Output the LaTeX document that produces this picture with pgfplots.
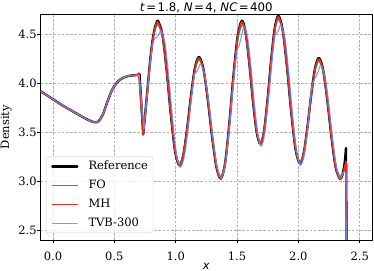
\documentclass[border=0pt]{standalone}
\usepackage{pgfplots}
\pgfplotsset{compat=1.18}
\usepackage{fontspec}
\setmainfont{DejaVu Serif}
\newfontfamily\djs{DejaVu Sans}
\definecolor{cfo}{RGB}{45,160,45}
\definecolor{cmh}{RGB}{240,40,40}
\definecolor{ctvb}{RGB}{100,140,255}
\definecolor{cgrid}{RGB}{178,178,178}
\newcommand{\eq}{\hspace{1.4bp}=\hspace{1.4bp}}
\begin{document}
\begin{tikzpicture}
\begin{axis}[
  at={(40.7bp,31bp)}, anchor=south west,
  scale only axis, width=331.3bp, height=225.7bp,
  xmin=-0.1, xmax=2.6, ymin=2.4, ymax=4.7,
  xtick={0,0.5,1,1.5,2,2.5}, ytick={2.5,3,3.5,4,4.5},
  /pgf/number format/.cd, fixed, fixed zerofill, precision=1, assume math mode=true, /pgfplots/.cd,
  grid=major, grid style={dashed, cgrid, line width=0.6bp, dash pattern=on 2.6bp off 1.6bp},
  axis line style={line width=0.9bp, black},
  tick align=outside, tick pos=left, major tick length=3.5bp,
  tick style={line width=0.8bp, black},
  ticklabel style={font=\fontsize{11.5bp}{13bp}\selectfont},
  xticklabel style={yshift=-5bp},
  yticklabel style={xshift=3bp},
  title={{\djs\textit{t}\eq 1.8, \textit{N}\eq 4, \textit{NC}\eq 400}},
  every axis title/.style={font=\fontsize{11.8bp}{13bp}\selectfont, at={(axis description cs:0.5,1)}, anchor=base, yshift=3.3bp, inner sep=0pt},
  xlabel={{\djs\textit{x}}},
  every axis x label/.style={font=\fontsize{11.5bp}{13bp}\selectfont, at={(axis description cs:0.5,-0.1152)}, anchor=center, inner sep=0pt},
  ylabel={Density},
  every axis y label/.style={font=\fontsize{11.5bp}{13bp}\selectfont, at={(axis description cs:-0.1041,0.5)}, rotate=90, anchor=center, inner sep=0pt},
  legend cell align=left,
  legend image code/.code={\draw[#1] (0bp,0bp) -- (25bp,0bp);},
  legend style={at={(axis description cs:0.016,0.031)}, anchor=south west, draw=black!20, rounded corners=2bp, fill=white, fill opacity=0.8, text opacity=1, font=\fontsize{11.5bp}{13bp}\selectfont, inner xsep=5bp, inner ysep=4bp, row sep=7.6bp, column sep=10bp, nodes={inner sep=0pt, text height=8.7bp, text depth=2.6bp}},
  every axis plot/.append style={line join=round, line cap=round},
]
% ---------------- Reference ----------------
\addplot[black, line width=2.3bp, smooth] coordinates {
(-0.1,3.915)(0,3.835)(0.054,3.79)(0.1,3.755)(0.163,3.71)(0.244,3.652)(0.3,3.617)(0.339,3.600)(0.37,3.608)(0.407,3.68)(0.447,3.82)(0.488,3.945)(0.542,4.03)(0.61,4.07)(0.678,4.08)(0.706,4.088)};
\addlegendentry{Reference}
\addplot[black, line width=2.3bp, forget plot] coordinates {(0.706,4.088)(0.735,3.48)};
\addplot[black, line width=2.3bp, smooth, forget plot] coordinates {
(0.735,3.48)(0.75,3.66)(0.77,3.93)(0.79,4.20)(0.81,4.42)(0.83,4.56)(0.845,4.615)(0.857,4.632)
(0.8924,4.490)(0.9268,4.122)(0.9612,3.668)(0.9956,3.300)(1.030,3.16)
(1.062,3.266)(1.094,3.542)(1.126,3.883)(1.158,4.160)(1.190,4.265)
(1.2256,4.147)(1.2612,3.837)(1.2968,3.453)(1.3324,3.143)(1.368,3.025)
(1.4024,3.179)(1.4368,3.581)(1.4712,4.079)(1.5056,4.481)(1.540,4.635)
(1.570,4.515)(1.600,4.201)(1.630,3.814)(1.660,3.500)(1.690,3.380)
(1.7194,3.505)(1.7488,3.831)(1.7782,4.234)(1.8076,4.560)(1.837,4.685)
(1.872,4.541)(1.907,4.165)(1.942,3.700)(1.977,3.324)(2.012,3.180)
(2.043,3.283)(2.074,3.551)(2.105,3.884)(2.136,4.152)(2.167,4.255)
(2.2012,4.138)(2.2354,3.830)(2.2696,3.450)(2.3038,3.142)(2.338,3.025)
(2.355,3.05)(2.37,3.13)(2.38,3.22)(2.388,3.335)};
\addplot[black, line width=2.3bp, forget plot] coordinates {(2.388,3.335)(2.392,2.6)(2.394,2.0)};
% ---------------- FO ----------------
\addplot[cfo, line width=1.1bp, smooth] coordinates {
(-0.1,3.915)(0,3.835)(0.054,3.79)(0.1,3.755)(0.163,3.71)(0.244,3.652)(0.3,3.617)(0.339,3.600)(0.37,3.608)(0.407,3.68)(0.447,3.82)(0.488,3.945)(0.542,4.03)(0.61,4.07)(0.678,4.08)(0.703,4.085)};
\addlegendentry{FO}
\addplot[cfo, line width=1.1bp, forget plot] coordinates {(0.703,4.085)(0.738,3.55)};
\addplot[cfo, line width=1.1bp, smooth, forget plot] coordinates {
(0.738,3.55)(0.752,3.70)(0.77,3.93)(0.79,4.19)(0.81,4.40)(0.83,4.53)(0.845,4.58)(0.859,4.59)
(0.894,4.455)(0.928,4.103)(0.962,3.667)(0.996,3.315)(1.030,3.18)
(1.0624,3.281)(1.0948,3.545)(1.1272,3.871)(1.1596,4.134)(1.192,4.235)
(1.2272,4.122)(1.2624,3.826)(1.2976,3.459)(1.3328,3.163)(1.368,3.05)
(1.4028,3.197)(1.4376,3.582)(1.4724,4.058)(1.5072,4.443)(1.542,4.59)
(1.5716,4.476)(1.6012,4.179)(1.6308,3.811)(1.6604,3.514)(1.690,3.40)
(1.7196,3.519)(1.7492,3.832)(1.7788,4.218)(1.8084,4.531)(1.838,4.65)
(1.8728,4.512)(1.9076,4.149)(1.9424,3.701)(1.9772,3.339)(2.012,3.20)
(2.0432,3.297)(2.0744,3.552)(2.1056,3.868)(2.1368,4.123)(2.168,4.22)
(2.202,4.108)(2.236,3.816)(2.270,3.454)(2.304,3.162)(2.338,3.05)
(2.355,3.07)(2.37,3.11)(2.38,3.15)(2.388,3.17)};
\addplot[cfo, line width=1.1bp, forget plot] coordinates {(2.388,3.17)(2.392,2.0)};
% ---------------- MH ----------------
\addplot[cmh, line width=1.5bp, smooth] coordinates {
(-0.1,3.915)(0,3.835)(0.054,3.79)(0.1,3.755)(0.163,3.71)(0.244,3.652)(0.3,3.617)(0.339,3.600)(0.37,3.608)(0.407,3.68)(0.447,3.82)(0.488,3.945)(0.542,4.03)(0.61,4.07)(0.678,4.08)(0.699,4.10)};
\addlegendentry{MH}
\addplot[cmh, line width=1.5bp, forget plot] coordinates {(0.699,4.10)(0.735,3.47)};
\addplot[cmh, line width=1.5bp, smooth, forget plot] coordinates {
(0.735,3.47)(0.75,3.66)(0.77,3.93)(0.79,4.20)(0.81,4.42)(0.83,4.555)(0.845,4.605)(0.857,4.62)
(0.8924,4.485)(0.9268,4.122)(0.9612,3.668)(0.9956,3.300)(1.030,3.16)
(1.062,3.266)(1.094,3.542)(1.126,3.883)(1.158,4.155)(1.190,4.255)
(1.2256,4.142)(1.2612,3.837)(1.2968,3.453)(1.3324,3.143)(1.368,3.025)
(1.4024,3.179)(1.4368,3.581)(1.4712,4.079)(1.5056,4.475)(1.540,4.625)
(1.570,4.508)(1.600,4.201)(1.630,3.814)(1.660,3.500)(1.690,3.380)
(1.7194,3.505)(1.7488,3.831)(1.7782,4.234)(1.8076,4.553)(1.837,4.675)
(1.872,4.535)(1.907,4.165)(1.942,3.700)(1.977,3.324)(2.012,3.180)
(2.043,3.283)(2.074,3.551)(2.105,3.884)(2.136,4.146)(2.167,4.245)
(2.2012,4.132)(2.2354,3.830)(2.2696,3.450)(2.3038,3.142)(2.338,3.025)
(2.355,3.05)(2.37,3.10)(2.38,3.16)(2.388,3.20)};
\addplot[cmh, line width=1.5bp, forget plot] coordinates {(2.388,3.20)(2.393,2.0)};
% ---------------- TVB-300 ----------------
\addplot[ctvb, line width=1.1bp, opacity=0.85, smooth] coordinates {
(-0.1,3.915)(0,3.835)(0.054,3.79)(0.1,3.755)(0.163,3.71)(0.244,3.652)(0.3,3.617)(0.339,3.600)(0.37,3.608)(0.407,3.68)(0.447,3.82)(0.488,3.945)(0.542,4.03)(0.61,4.07)(0.678,4.078)(0.703,4.08)};
\addlegendentry{TVB-300}
\addplot[ctvb, line width=1.1bp, opacity=0.85, forget plot] coordinates {(0.703,4.08)(0.742,3.53)};
\addplot[ctvb, line width=1.1bp, opacity=0.85, smooth, forget plot] coordinates {
(0.742,3.53)(0.755,3.68)(0.772,3.92)(0.792,4.18)(0.81,4.38)(0.828,4.45)(0.845,4.465)(0.865,4.50)(0.882,4.535)
(0.9132,4.402)(0.9444,4.053)(0.9756,3.622)(1.0068,3.273)(1.038,3.14)
(1.07,3.25)(1.10,3.52)(1.13,3.86)(1.152,4.08)(1.17,4.11)(1.19,4.16)(1.203,4.195)
(1.2368,4.084)(1.2706,3.793)(1.3044,3.432)(1.3382,3.141)(1.372,3.03)
(1.405,3.17)(1.44,3.57)(1.475,4.05)(1.50,4.33)(1.515,4.37)(1.535,4.47)(1.558,4.58)
(1.586,4.463)(1.614,4.157)(1.642,3.778)(1.670,3.472)(1.698,3.355)
(1.725,3.48)(1.755,3.82)(1.785,4.22)(1.805,4.46)(1.82,4.50)(1.84,4.54)(1.858,4.595)
(1.89,4.458)(1.922,4.099)(1.954,3.656)(1.986,3.297)(2.018,3.16)
(2.05,3.28)(2.08,3.58)(2.105,3.93)(2.125,4.02)(2.15,4.08)(2.17,4.15)(2.185,4.18)
(2.2164,4.070)(2.2478,3.783)(2.2792,3.427)(2.3106,3.140)(2.342,3.03)
(2.36,3.07)(2.375,3.10)(2.388,3.08)};
\addplot[ctvb, line width=1.1bp, opacity=0.85, forget plot] coordinates {(2.388,3.08)(2.392,2.0)};
\end{axis}
\pgfresetboundingbox
\path[use as bounding box] (0,0) rectangle (374bp,271bp);
\end{tikzpicture}
\end{document}
